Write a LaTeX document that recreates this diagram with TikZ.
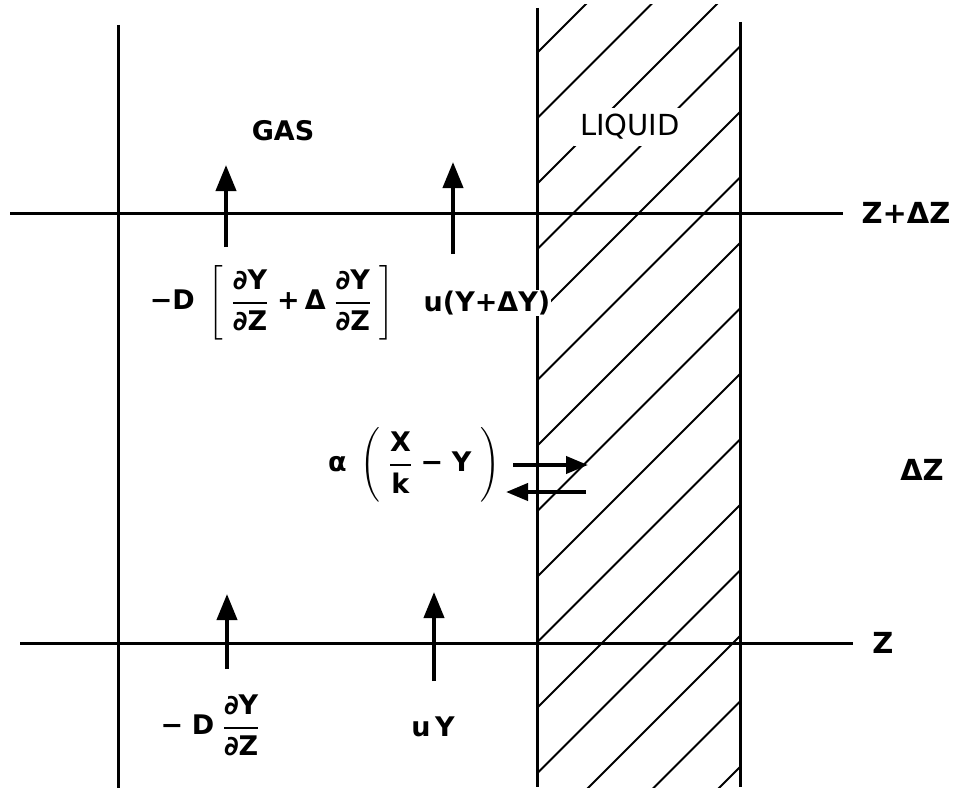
\RequirePackage{fix-cm}
\documentclass[tikz,border=0pt]{standalone}
\usepackage{amsmath}
\usepackage{fontspec}
\setmainfont{DejaVu Sans}
\usetikzlibrary{arrows.meta}
\newcommand{\ffrac}[2]{\genfrac{}{}{2.2pt}{0}{\text{#1}}{\text{#2}}}
\begin{document}
\begin{tikzpicture}[x=1pt,y=-1pt,
  frame/.style={line width=3pt},
  hatch/.style={line width=1.8pt},
  flux/.style={line width=4pt,-{Triangle[length=26pt,width=20pt]}},
  xfer/.style={line width=4pt,-{Triangle[length=22pt,width=17pt]}},
  lbl/.style={font=\fontsize{27}{31}\bfseries\boldmath\selectfont, inner sep=1pt},
  big/.style={font=\fontsize{29}{32}\bfseries\selectfont, inner sep=1pt},
  phase/.style={font=\fontsize{29}{32}\selectfont, inner sep=6pt}
]
\useasboundingbox (0,0) rectangle (963,789);

% hatching of the liquid film
\begin{scope}
  \clip (537,5) rectangle (740,787);
  \foreach \k in {0,...,14}
    \draw[hatch] (537,{53+65.5*\k}) -- ++(280,-280);
\end{scope}

% frame lines
\draw[frame] (118,25) -- (118,788);
\draw[frame] (537,8) -- (537,787);
\draw[frame] (740,22) -- (740,787);
\draw[frame] (10,213) -- (843,213);
\draw[frame] (20,643) -- (853,643);

% phase labels
\node[phase, font=\fontsize{27}{30}\bfseries\selectfont] (gas) at (283,131) {GAS};
\node[phase, fill=white] (liquid) at (630,127) {LIQUID};

% level labels
\node[big] (ztop) at (906,213) {Z+ΔZ};
\node[big] (dz) at (922,470) {ΔZ};
\node[big] (zbot) at (883,643) {Z};

% flux arrows (top)
\coordinate (a1s) at (226,247);
\coordinate (a1e) at (226,165);
\coordinate (a2s) at (453,254);
\coordinate (a2e) at (453,162);
\draw[flux] (a1s) -- (a1e);
\draw[flux] (a2s) -- (a2e);

% flux arrows (bottom)
\coordinate (b1s) at (227,669);
\coordinate (b1e) at (227,594);
\coordinate (b2s) at (434,681);
\coordinate (b2e) at (434,592);
\draw[flux] (b1s) -- (b1e);
\draw[flux] (b2s) -- (b2e);

% interface transfer arrows
\coordinate (t1s) at (513,465);
\coordinate (t1e) at (588,465);
\coordinate (t2s) at (586,492);
\coordinate (t2e) at (506,492);
\draw[xfer] (t1s) -- (t1e);
\draw[xfer] (t2s) -- (t2e);

% flux labels
\node[lbl] (difftop) at (272,303)
  {$\text{−D}\;\left[\;\ffrac{∂Y}{∂Z}\;\text{+}\,\text{Δ}\;\ffrac{∂Y}{∂Z}\;\right]$};
\node[lbl, fill=white] (convtop) at (487,303) {u(Y+ΔY)};
\node[lbl] (transfer) at (414,465)
  {$\text{α}\;\left(\;\ffrac{X}{k}\;\text{−}\;\text{Y}\;\right)$};
\node[lbl] (diffbot) at (210,725) {$\text{−}\;\text{D}\;\ffrac{∂Y}{∂Z}$};
\node[lbl] (convbot) at (433,727) {u\,Y};
\end{tikzpicture}
\end{document}
